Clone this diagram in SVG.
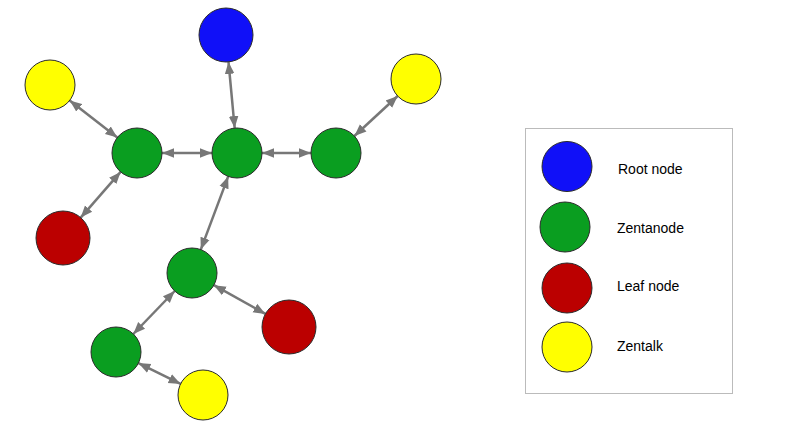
<svg xmlns="http://www.w3.org/2000/svg" width="792" height="431" viewBox="0 0 792 431">
<style>
.n{stroke:#2a2a2a;stroke-width:1}
.root{fill:#1010f8}
.zn{fill:#0a9e20}
.leaf{fill:#bb0000}
.zt{fill:#ffff00}
.e{stroke:#777;stroke-width:2.5;fill:none;marker-start:url(#ah);marker-end:url(#ah)}
.t{font-family:"Liberation Sans",Arial,sans-serif;font-size:14px;fill:#000}
</style>
<defs>
<marker id="ah" markerUnits="userSpaceOnUse" markerWidth="12" markerHeight="12" viewBox="0 0 10 10" refX="10" refY="5" orient="auto-start-reverse">
<path d="M0,1 L10,5 L0,9 Z" fill="#777"/>
</marker>
</defs>
<rect width="792" height="431" fill="#fff"/>
<g id="connectors">
<line class="e" x1="69.7" y1="100.4" x2="117.3" y2="137.6"/>
<line class="e" x1="162" y1="153" x2="212" y2="153"/>
<line class="e" x1="262" y1="153" x2="311" y2="153"/>
<line class="e" x1="354.4" y1="136" x2="397.7" y2="96"/>
<line class="e" x1="234.7" y1="128.1" x2="228.5" y2="61.9"/>
<line class="e" x1="120.6" y1="171.9" x2="80.7" y2="217.6"/>
<line class="e" x1="228.2" y1="176.4" x2="200.8" y2="249.6"/>
<line class="e" x1="174.7" y1="291" x2="133.3" y2="334"/>
<line class="e" x1="213.9" y1="285.2" x2="265.4" y2="313.9"/>
<line class="e" x1="138.4" y1="363.1" x2="180.6" y2="383.9"/>
</g>
<g id="root"><circle class="n root" cx="226" cy="35" r="27"/></g>
<g id="zn-left"><circle class="n zn" cx="137" cy="153" r="25"/></g>
<g id="zn-center"><circle class="n zn" cx="237" cy="153" r="25"/></g>
<g id="zn-right"><circle class="n zn" cx="336" cy="153" r="25"/></g>
<g id="zt-topleft"><circle class="n zt" cx="50" cy="85" r="25"/></g>
<g id="zt-topright"><circle class="n zt" cx="416" cy="79" r="25"/></g>
<g id="leaf-left"><circle class="n leaf" cx="63" cy="238" r="27"/></g>
<g id="zn-middle"><circle class="n zn" cx="192" cy="273" r="25"/></g>
<g id="leaf-right"><circle class="n leaf" cx="289" cy="327" r="27"/></g>
<g id="zn-bottom"><circle class="n zn" cx="116" cy="352" r="25"/></g>
<g id="zt-bottom"><circle class="n zt" cx="203" cy="395" r="25"/></g>
<g id="legend">
<rect x="525.5" y="128.5" width="207" height="265" fill="#fff" stroke="#bbb" stroke-width="1"/>
<circle class="n root" cx="567" cy="166.5" r="25"/>
<text class="t" x="618" y="174">Root node</text>
<circle class="n zn" cx="565" cy="227" r="25"/>
<text class="t" x="617" y="233">Zentanode</text>
<circle class="n leaf" cx="567" cy="288" r="25"/>
<text class="t" x="617" y="291">Leaf node</text>
<circle class="n zt" cx="567" cy="347" r="25"/>
<text class="t" x="617" y="351">Zentalk</text>
</g>
</svg>
